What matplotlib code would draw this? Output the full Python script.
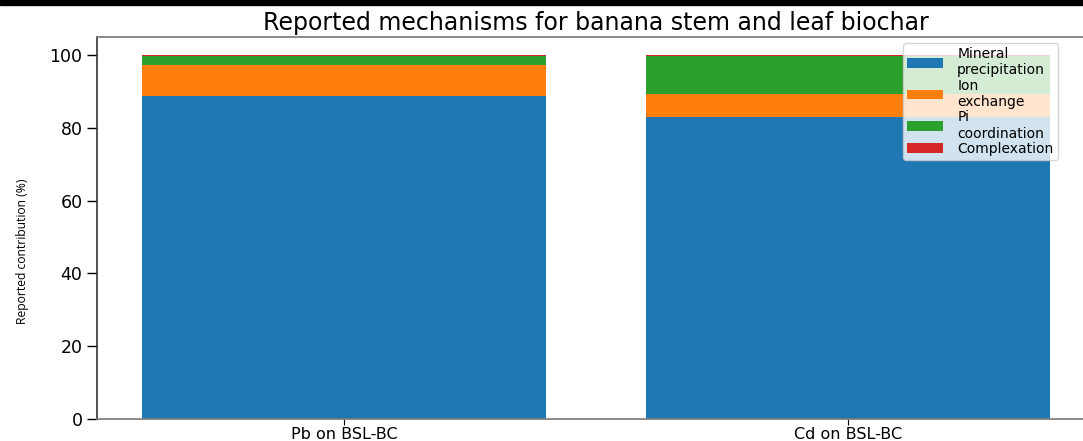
import numpy as np
import matplotlib
matplotlib.use("Agg")
import matplotlib.pyplot as plt
from matplotlib.patches import Rectangle

# contribution of each sorption mechanism (%)
samples = ["Pb on BSL-BC", "Cd on BSL-BC"]
mechanisms = ["Mineral\nprecipitation", "Ion\nexchange", "Pi\ncoordination", "Complexation"]
mineral_precip = [88.7, 83.0]
ion_exchange = [8.5, 6.4]
pi_coord = [2.7, 10.3]
complexation = [0.1, 0.3]

series = [mineral_precip, ion_exchange, pi_coord, complexation]
colors = ["#1f77b4", "#ff7f0e", "#2ca02c", "#d62728"]

W, H = 1083, 441
fig = plt.figure(figsize=(W / 100, H / 100), dpi=100)
ax = fig.add_axes([97 / W, 22 / H, 998 / W, 382 / H])

x = np.arange(len(samples))
bottom = np.zeros(len(samples))
for vals, c, lab in zip(series, colors, mechanisms):
    ax.bar(x, vals, 0.8, bottom=bottom, color=c, label=lab)
    bottom += np.array(vals)

ax.set_xticks(x)
ax.set_xticklabels(samples, fontsize=11.5)
ax.tick_params(axis="y", labelsize=12.5, length=7, width=1.0)
ax.tick_params(axis="x", length=4, pad=1.5)
ax.set_ylabel("Reported contribution (%)", family="Open Sans", fontsize=8.7)
ax.yaxis.set_label_coords(-0.068, 0.44)
ax.set_title("Reported mechanisms for banana stem and leaf biochar", fontsize=17, pad=5)
for s in ["left", "bottom", "top", "right"]:
    ax.spines[s].set_linewidth(1.2)
ax.spines["left"].set_color("#333333")
ax.spines["bottom"].set_color("#777777")
ax.spines["top"].set_color("#777777")

ax.legend(loc="upper left", bbox_to_anchor=((903 - 97) / 998, 1 - 6 / 382),
          borderaxespad=0, fontsize=10, handlelength=2.6, labelspacing=0.1,
          handletextpad=1.0, borderpad=0.3)

# dark band along the top edge
fig.add_artist(Rectangle((0, 1 - 5 / H), 1, 5 / H, transform=fig.transFigure,
                         color="black", zorder=10))

fig.savefig("out.png", dpi=100)
